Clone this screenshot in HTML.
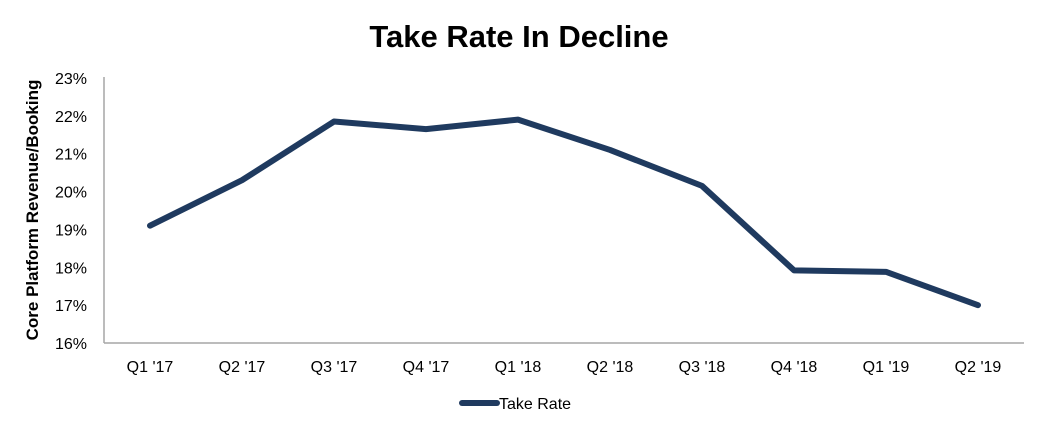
<!DOCTYPE html>
<html><head><meta charset="utf-8"><style>
body{margin:0;background:#fff;}
svg text{font-family:"Liberation Sans",Arial,sans-serif;}
</style></head><body>
<svg width="1039" height="429" viewBox="0 0 1039 429" xmlns="http://www.w3.org/2000/svg">
<text x="519" y="47" text-anchor="middle" font-size="31" font-weight="bold" fill="#000">Take Rate In Decline</text>
<text transform="translate(38,210) rotate(-90)" text-anchor="middle" font-size="17" font-weight="bold" fill="#000">Core Platform Revenue/Booking</text>
<g id="yticks"></g>
<g id="xticks"></g>
<line x1="104" y1="77" x2="104" y2="343" stroke="#a6a6a6" stroke-width="1.5"/>
<line x1="104" y1="343" x2="1024" y2="343" stroke="#a6a6a6" stroke-width="1.5"/>
<path id="series" fill="none" stroke="#1f3a5f" stroke-width="6" stroke-linejoin="round" stroke-linecap="round"/>
<line x1="462" y1="403" x2="497" y2="403" stroke="#1f3a5f" stroke-width="6" stroke-linecap="round"/>
<text x="499" y="409" font-size="16" fill="#000">Take Rate</text>
</svg>
<script>
const categories=["Q1 '17","Q2 '17","Q3 '17","Q4 '17","Q1 '18","Q2 '18","Q3 '18","Q4 '18","Q1 '19","Q2 '19"];
const takeRate=[19.1,20.3,21.85,21.65,21.9,21.1,20.15,17.92,17.88,17.0];
const yTickValues=[16,17,18,19,20,21,22,23];
const NS="http://www.w3.org/2000/svg";
const yMin=16,yMax=23,plotTop=78,plotBottom=343,plotLeft=104,plotRight=1024;
function y(v){return plotBottom-(v-yMin)/(yMax-yMin)*(plotBottom-plotTop);}
const step=(plotRight-plotLeft)/categories.length;
function x(i){return plotLeft+step*(i+0.5);}
const yt=document.getElementById('yticks');
yTickValues.forEach(v=>{const t=document.createElementNS(NS,'text');


t.setAttribute('x',87);t.setAttribute('y',y(v)+6);t.setAttribute('text-anchor','end');t.setAttribute('font-size','16');t.textContent=v+'%';yt.appendChild(t);});
const xt=document.getElementById('xticks');
categories.forEach((c,i)=>{const t=document.createElementNS(NS,'text');


t.setAttribute('x',x(i));t.setAttribute('y',372);t.setAttribute('text-anchor','middle');t.setAttribute('font-size','16');t.textContent=c;xt.appendChild(t);});
document.getElementById('series').setAttribute('d',takeRate.map((v,i)=>(i?'L':'M')+x(i)+','+y(v)).join(' '));
</script>
</body></html>
